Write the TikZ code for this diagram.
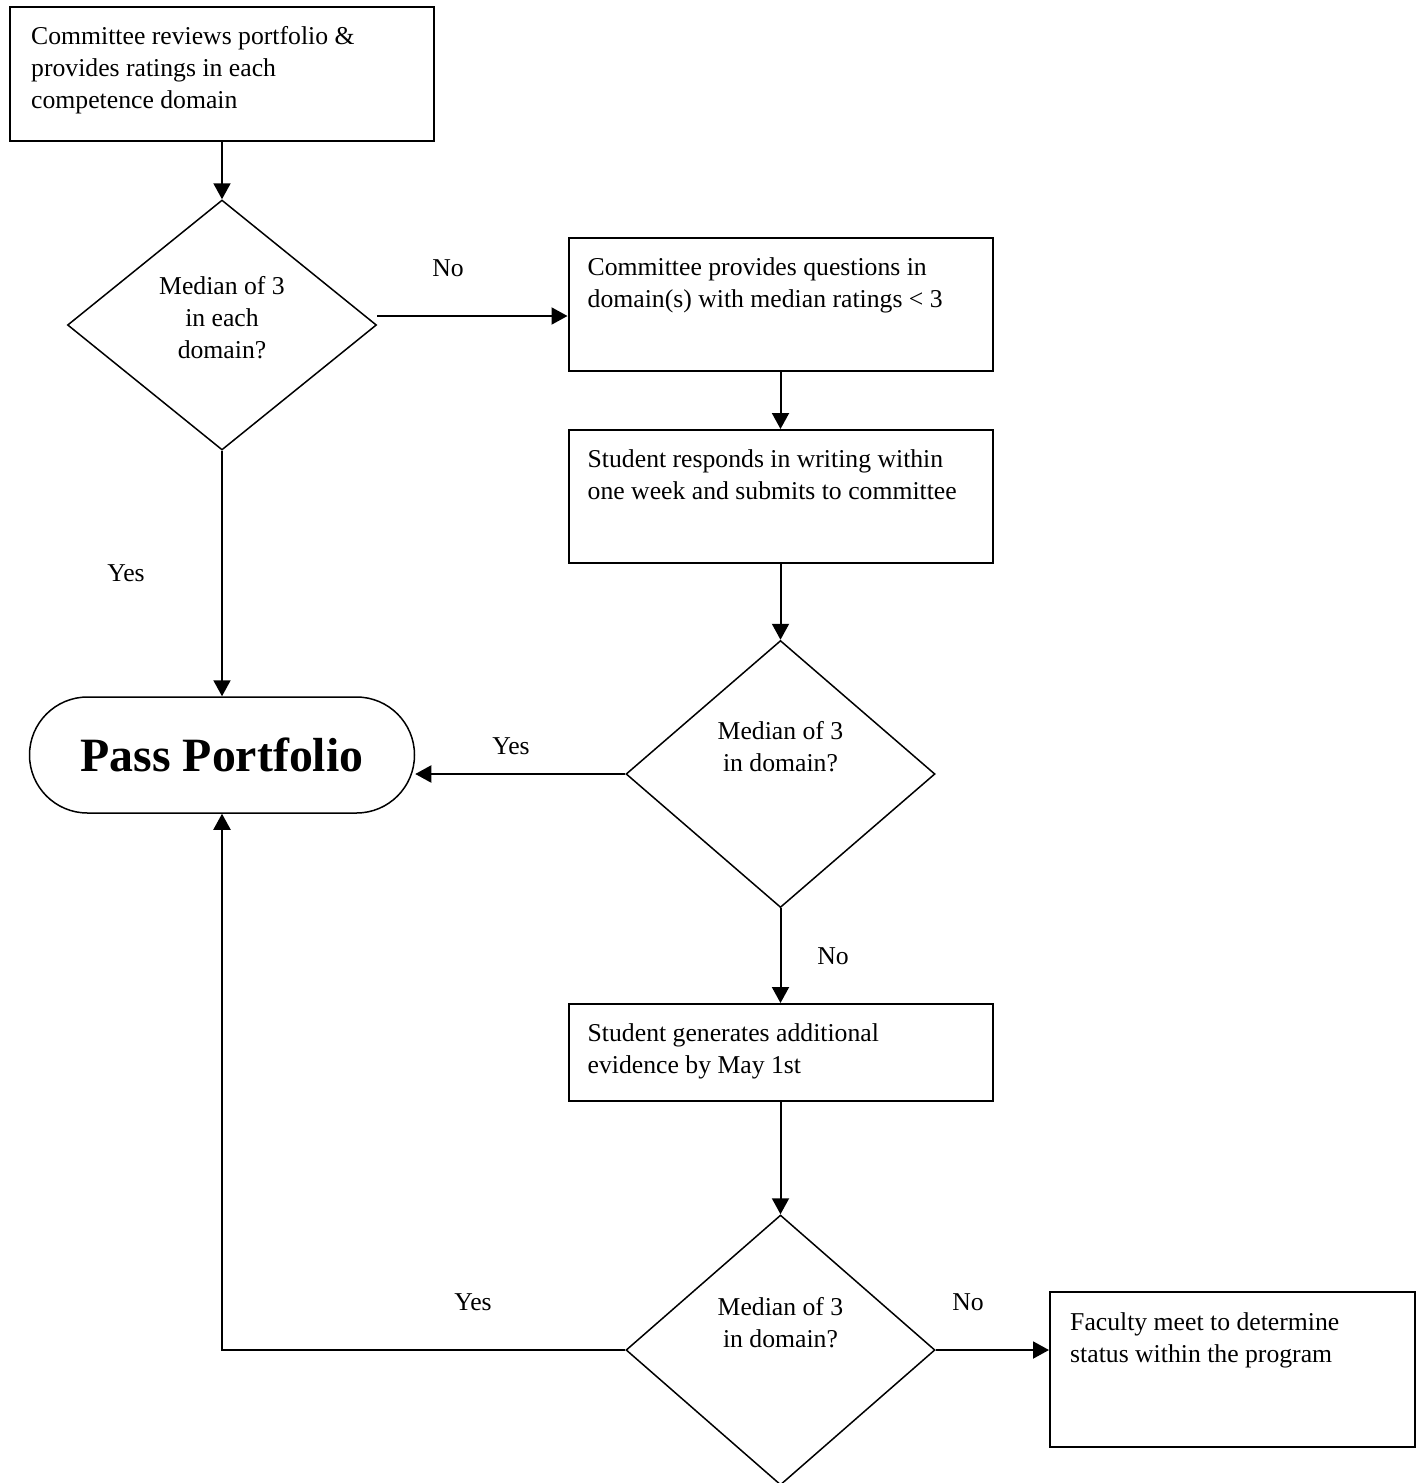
\documentclass[tikz,border=0pt]{standalone}
\usepackage{fontspec}
\setmainfont{Liberation Serif}
\usetikzlibrary{arrows.meta,shapes.geometric,calc}

\begin{document}
\begin{tikzpicture}[>={Triangle[length=16pt,width=17pt]},x=1pt,y=-1pt,
    font=\fontsize{25.7}{32}\selectfont,
    stepbox/.style={draw,line width=2pt,inner sep=0pt,minimum width=424pt},
    boxtext/.style={anchor=north west,align=left,inner sep=0pt},
    decision/.style={diamond,draw,line width=1.5pt,inner sep=0pt,minimum width=309pt},
    qtext/.style={align=center,inner sep=0pt},
    flow/.style={->,line width=2pt},
    answer/.style={anchor=base,inner sep=0pt}]

    \useasboundingbox (0,0) rectangle (1416,1483);

    % Left column: first review, first check, pass
    \node [stepbox,minimum height=134pt] (review) at (222,74) {};
    \node [boxtext] (reviewtxt) at ($(review.north west)+(22,20)$)
        {Committee reviews portfolio \&\\provides ratings in each\\competence domain};

    \node [decision,minimum height=250pt] (check1) at (222,325) {};
    \node [qtext] (check1txt) at (222,318) {Median of 3\\in each\\domain?};

    \node [draw,line width=1.5pt,rounded corners=58pt,minimum width=385pt,minimum height=116pt,
        font=\fontsize{47.8}{50}\selectfont\bfseries] (pass) at (222,755) {Pass Portfolio};

    % Right column: questions, response, second check
    \node [stepbox,minimum height=133pt] (questions) at (780.5,304.5) {};
    \node [boxtext] (questionstxt) at ($(questions.north west)+(20,20)$)
        {Committee provides questions in\\domain(s) with median ratings < 3};

    \node [stepbox,minimum height=133pt] (respond) at (780.5,496.5) {};
    \node [boxtext] (respondtxt) at ($(respond.north west)+(20,20)$)
        {Student responds in writing within\\one week and submits to committee};

    \node [decision,minimum height=267pt] (check2) at (780.5,774) {};
    \node [qtext] (check2txt) at (780.5,747) {Median of 3\\in domain?};

    % Additional evidence and final check
    \node [stepbox,minimum height=97pt] (evidence) at (780.5,1052.5) {};
    \node [boxtext] (evidencetxt) at ($(evidence.north west)+(20,20)$)
        {Student generates additional\\evidence by May 1st};

    \node [decision,minimum height=270pt] (check3) at (780.5,1350) {};
    \node [qtext] (check3txt) at (780.5,1323) {Median of 3\\in domain?};

    \node [draw,line width=2pt,inner sep=0pt,minimum width=365pt,minimum height=155pt] (faculty) at (1232.5,1369.5) {};
    \node [boxtext] (facultytxt) at ($(faculty.north west)+(21,21)$)
        {Faculty meet to determine\\status within the program};

    % Connectors
    \draw [flow] (review.south) -- (check1.north);
    \draw [flow] ([yshift=9pt]check1.east) -- ([yshift=9pt]check1.east -| questions.west);
    \draw [flow] (check1.south) -- (pass.north);
    \draw [flow] (questions.south) -- (respond.north);
    \draw [flow] (respond.south) -- (check2.north);
    \draw [flow] (check2.west) -- (check2.west -| pass.east);
    \draw [flow] (check2.south) -- (evidence.north);
    \draw [flow] (evidence.south) -- (check3.north);
    \draw [flow] (check3.west) -| (pass.south);
    \draw [flow] (check3.east) -- (check3.east -| faculty.west);

    % Yes / No labels
    \node [answer] (no1) at (448,276) {No};
    \node [answer] (yes1) at (126,581) {Yes};
    \node [answer] (yes2) at (511,754) {Yes};
    \node [answer] (no2) at (833,964) {No};
    \node [answer] (yes3) at (473,1310) {Yes};
    \node [answer] (no3) at (968,1310) {No};

\end{tikzpicture}
\end{document}
